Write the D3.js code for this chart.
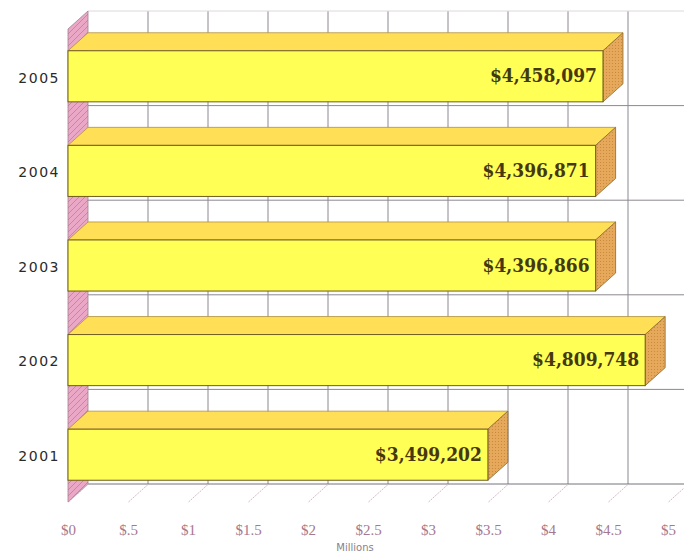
<!DOCTYPE html>
<html>
<head>
<meta charset="utf-8">
<script src="https://cdn.jsdelivr.net/npm/d3@7"></script>
<style>
  body { margin: 0; background: #fff; }
  svg { display: block; }
</style>
</head>
<body>
<svg id="chart" width="684" height="556"></svg>
<script>
// chart data
const years = ["2005", "2004", "2003", "2002", "2001"];
const amounts = [4458097, 4396871, 4396866, 4809748, 3499202];
const amountLabels = ["$4,458,097", "$4,396,871", "$4,396,866", "$4,809,748", "$3,499,202"];
const tickValues = [0, 500000, 1000000, 1500000, 2000000, 2500000, 3000000, 3500000, 4000000, 4500000, 5000000];
const tickLabels = ["$0", "$.5", "$1", "$1.5", "$2", "$2.5", "$3", "$3.5", "$4", "$4.5", "$5"];

// layout
const plot = {left: 68, right: 668, top: 29, bottom: 502};
const depth = {dx: 20, dy: -18};

const svg = d3.select("#chart");
const defs = svg.append("defs");

// hatching for the side faces and the left wall
const sideHatch = defs.append("pattern")
    .attr("id", "sideHatch").attr("patternUnits", "userSpaceOnUse")
    .attr("width", 3).attr("height", 3);
sideHatch.append("rect").attr("width", 3).attr("height", 3).attr("fill", "#e6a85a");
sideHatch.append("rect").attr("width", 1).attr("height", 1).attr("fill", "#c98a3e");

const wallHatch = defs.append("pattern")
    .attr("id", "wallHatch").attr("patternUnits", "userSpaceOnUse")
    .attr("width", 6).attr("height", 6);
wallHatch.append("rect").attr("width", 6).attr("height", 6).attr("fill", "#eaa8c6");
wallHatch.append("path").attr("d", "M0,6 L6,0").attr("stroke", "#c77a9c").attr("stroke-width", 0.8);

const x = d3.scaleLinear()
    .domain([0, 5000000])
    .range([plot.left, plot.right]);

// one band per year for the bars, and plain bands for the category grid
const y = d3.scaleBand()
    .domain(years)
    .range([plot.top, plot.bottom])
    .paddingInner(0.46)
    .paddingOuter(0.23);

const yGrid = d3.scaleBand()
    .domain(years)
    .range([plot.top, plot.bottom]);

const grid = svg.append("g");

// back wall: value grid lines
grid.selectAll(".vgrid")
    .data(tickValues.slice(1))
    .enter()
    .append("line")
    .attr("x1", d => x(d) + depth.dx)
    .attr("x2", d => x(d) + depth.dx)
    .attr("y1", plot.top + depth.dy)
    .attr("y2", plot.bottom + depth.dy)
    .attr("stroke", "#8c8890")
    .attr("stroke-width", 1);

// back wall: category grid lines
grid.selectAll(".hgrid")
    .data(years)
    .enter()
    .append("line")
    .attr("x1", x(0) + depth.dx)
    .attr("x2", 684)
    .attr("y1", d => yGrid(d) + depth.dy)
    .attr("y2", d => yGrid(d) + depth.dy)
    .attr("stroke", d => d === years[0] ? "#ddd8dc" : "#8c8890")
    .attr("stroke-width", 1);

// floor back edge
grid.append("line")
    .attr("x1", x(0) + depth.dx).attr("x2", 684)
    .attr("y1", plot.bottom + depth.dy).attr("y2", plot.bottom + depth.dy)
    .attr("stroke", "#77737a");

// left wall
grid.append("path")
    .attr("d", `M${x(0)},${plot.top} L${x(0) + depth.dx},${plot.top + depth.dy} L${x(0) + depth.dx},${plot.bottom + depth.dy} L${x(0)},${plot.bottom} Z`)
    .attr("fill", "url(#wallHatch)")
    .attr("stroke", "#a08090")
    .attr("stroke-width", 0.8);

// x axis along the floor, tick lines run into the depth
const xAxis = svg.append("g")
    .attr("transform", "translate(0," + plot.bottom + ")")
    .call(d3.axisBottom(x).tickValues(tickValues).tickFormat((d, i) => tickLabels[i]).tickSize(0));
xAxis.select(".domain").remove();
xAxis.selectAll(".tick line")
    .attr("x2", depth.dx)
    .attr("y2", depth.dy)
    .attr("stroke", "#d9b8c8")
    .attr("stroke-dasharray", "2,1");
xAxis.selectAll(".tick text")
    .attr("y", 22)
    .attr("fill", "#a67890")
    .style("font-family", "'Liberation Serif', serif")
    .style("font-size", "15px");

svg.append("text")
    .attr("x", 355)
    .attr("y", 551)
    .attr("text-anchor", "middle")
    .attr("fill", "#8a8088")
    .style("font-family", "'DejaVu Sans', sans-serif")
    .style("font-size", "10px")
    .text("Millions");

// y axis labels
const yAxis = svg.append("g")
    .attr("transform", "translate(" + (plot.left - 8) + ",0)")
    .call(d3.axisLeft(yGrid).tickSize(0));
yAxis.select(".domain").remove();
yAxis.selectAll(".tick text")
    .attr("x", 0)
    .attr("dy", "0.45em")
    .attr("fill", "#2a2a2a")
    .style("font-family", "'DejaVu Sans', sans-serif")
    .style("font-size", "14px")
    .style("letter-spacing", "1.5px");

// bars
const bars = svg.selectAll(".bar")
    .data(years)
    .enter()
    .append("g")
    .attr("class", "bar");

const x0 = x(0);
const bw = y.bandwidth();

bars.append("path")   // top face
    .attr("d", (d, i) => {
        const t = y(d), e = x(amounts[i]);
        return `M${x0},${t} L${x0 + depth.dx},${t + depth.dy} L${e + depth.dx},${t + depth.dy} L${e},${t} Z`;
    })
    .attr("fill", "#ffdf55")
    .attr("stroke", "#b09040")
    .attr("stroke-width", 0.8);

bars.append("path")   // side face
    .attr("d", (d, i) => {
        const t = y(d), e = x(amounts[i]);
        return `M${e},${t} L${e + depth.dx},${t + depth.dy} L${e + depth.dx},${t + bw + depth.dy} L${e},${t + bw} Z`;
    })
    .attr("fill", "url(#sideHatch)")
    .attr("stroke", "#8a6a30")
    .attr("stroke-width", 0.8);

bars.append("rect")   // front face
    .attr("x", x0)
    .attr("y", d => y(d))
    .attr("width", (d, i) => x(amounts[i]) - x0)
    .attr("height", bw)
    .attr("fill", "#ffff55")
    .attr("stroke", "#6e5c20")
    .attr("stroke-width", 1);

bars.append("text")
    .attr("x", (d, i) => x(amounts[i]) - 6)
    .attr("y", d => y(d) + bw / 2 + 6)
    .attr("text-anchor", "end")
    .attr("fill", "#45380f")
    .style("font-family", "'DejaVu Serif Condensed', 'DejaVu Serif', serif")
    .style("font-weight", "bold")
    .style("font-size", "19px")
    .text((d, i) => amountLabels[i]);
</script>
</body>
</html>
